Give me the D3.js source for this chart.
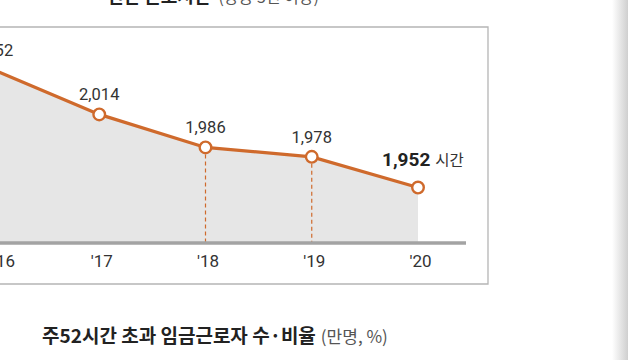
<!DOCTYPE html>
<html><head><meta charset="utf-8">
<script src="https://cdn.jsdelivr.net/npm/d3@7"></script>
<style>html,body{margin:0;padding:0;background:#fff;}svg{display:block;}</style>
</head><body>
<svg id="c" width="628" height="360"></svg>
<script>
const years = ["'16", "'17", "'18", "'19", "'20"];
const hours = [2052, 2014, 1986, 1978, 1952];
const valueLabels = ["2,052", "2,014", "1,986", "1,978", "1,952"];
const dashedYears = ["'18", "'19"];
const unitLabel = "시간";
const topTitle = "연간 근로시간";
const topSub = "(상용 5인 이상)";
const bottomTitle = "주52시간 초과 임금근로자 수·비율";
const bottomSub = "(만명, %)";

const svg = d3.select("#c");
const FONT = "Roboto, 'Noto Sans CJK KR', sans-serif";
const KFONT = "'Noto Sans CJK KR', Roboto, sans-serif";
const orange = "#cf6a2c";

const defs = svg.append("defs");
const g = defs.append("linearGradient").attr("id","edge").attr("x1","0").attr("x2","1");
g.append("stop").attr("offset","0").attr("stop-color","#fff");
g.append("stop").attr("offset","1").attr("stop-color","#cfcfcf");
svg.append("rect").attr("x",612).attr("y",0).attr("width",16).attr("height",360).attr("fill","url(#edge)");

const x = d3.scalePoint().domain(years).range([-7, 418]);
const y = d3.scaleLinear().domain([1905, 2055]).range([243, 66]);
const axisY = 243;

// box
svg.append("path").attr("d", d3.line()([[-5,27],[488,27],[488,284],[-5,284]]))
  .attr("fill","none").attr("stroke","#b5b5b5").attr("stroke-width",1.3);

// area
const pts = years.map((yr,i)=>({yr, v:hours[i], lbl:valueLabels[i]}));
svg.append("path").datum(pts)
  .attr("d", d3.area().x(d=>x(d.yr)).y0(axisY).y1(d=>y(d.v)))
  .attr("fill","#e6e6e6");

// dashed lines
svg.selectAll(".dash").data(pts.filter(d=>dashedYears.includes(d.yr))).enter()
  .append("line").attr("x1",d=>x(d.yr)).attr("x2",d=>x(d.yr))
  .attr("y1",d=>y(d.v)).attr("y2",axisY)
  .attr("stroke",orange).attr("stroke-width",1.2).attr("stroke-dasharray","4,3");

// axis
const axis = svg.append("g").attr("transform",`translate(0,${axisY})`)
  .call(d3.axisBottom(x).tickSize(0).tickPadding(12));
axis.select(".domain").remove();
axis.append("line").attr("x1",-10).attr("x2",466).attr("y1",0).attr("y2",0)
  .attr("stroke","#a3a3a3").attr("stroke-width",3.5);
axis.selectAll(".tick text").attr("font-family",FONT).attr("font-size",17).attr("fill","#333")
  .attr("dx",2)
  .each(function(){
    const b = this.getBBox();
    const tx = +this.parentNode.getAttribute("transform").match(/translate\(([-\d.]+)/)[1];
    const left = tx + b.x + 2;
    if (left < -5) d3.select(this).attr("dx", 2 + (-5 - left));
  });

// line
svg.append("path").datum(pts)
  .attr("d", d3.line().x(d=>x(d.yr)).y(d=>y(d.v)))
  .attr("fill","none").attr("stroke",orange).attr("stroke-width",3.2);

svg.selectAll(".pt").data(pts).enter().append("circle")
  .attr("cx",d=>x(d.yr)).attr("cy",d=>y(d.v)).attr("r",5.8)
  .attr("fill","#fff").attr("stroke",orange).attr("stroke-width",2.4);

// labels
const last = pts.length-1;
svg.selectAll(".vl").data(pts.slice(0,last)).enter().append("text")
  .attr("x",d=>x(d.yr)).attr("y",d=>y(d.v)-14).attr("text-anchor","middle")
  .attr("font-family",FONT).attr("font-size",16.5).attr("fill","#333").text(d=>d.lbl);
const lt = svg.append("text").attr("x",x(pts[last].yr)-36).attr("y",y(pts[last].v)-22)
  .attr("font-family",FONT).attr("fill","#222");
lt.append("tspan").attr("font-weight","bold").attr("font-size",19).text(pts[last].lbl);
lt.append("tspan").attr("font-family",KFONT).attr("font-size",15.5).attr("dx",5).attr("fill","#333").text(unitLabel);

// titles
const tt = svg.append("text").attr("x",107).attr("y",3).attr("font-family",KFONT);
tt.append("tspan").attr("font-weight","bold").attr("font-size",18).attr("fill","#222").text(topTitle);
tt.append("tspan").attr("font-size",16).attr("dx",8).attr("fill","#555").text(topSub);

const bt = svg.append("text").attr("x",42).attr("y",343).attr("font-family",KFONT);
bt.append("tspan").attr("font-weight","bold").attr("font-size",19).attr("fill","#222").text(bottomTitle);
bt.append("tspan").attr("font-size",17).attr("dx",5).attr("fill","#555").text(bottomSub);
</script>
</body></html>
